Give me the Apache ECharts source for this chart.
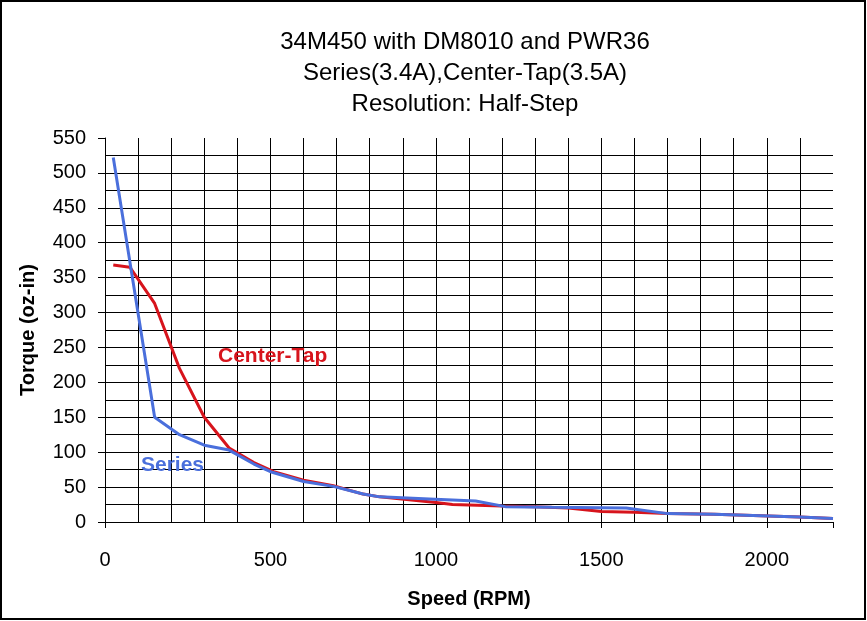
<!DOCTYPE html>
<html>
<head>
<meta charset="utf-8">
<script src="https://cdn.jsdelivr.net/npm/echarts@6/dist/echarts.min.js"></script>
<style>
    html, body { margin: 0; padding: 0; background: #fff; }
    #chart { width: 867px; height: 621px; }
</style>
</head>
<body>
<div id="chart"></div>
<script>
    // speed (RPM), torque (oz-in)
    const seriesData = [
        [25, 522], [150, 150], [225, 125], [300, 110], [375, 103], [450, 83],
        [500, 72], [600, 58], [690, 51], [780, 40], [830, 36], [980, 33],
        [1120, 30], [1210, 22], [1350, 21], [1575, 20], [1700, 12], [1840, 11],
        [2100, 7], [2200, 5]
    ]
    const centerTapData = [
        [25, 368], [75, 365], [150, 313], [225, 220], [300, 150], [375, 106],
        [450, 85], [510, 72], [600, 60], [690, 52], [780, 40], [830, 36],
        [1000, 28], [1050, 25], [1200, 23], [1300, 22], [1400, 20], [1500, 15],
        [1600, 14], [1700, 12], [1840, 11], [2100, 7], [2200, 5]
    ]
    const titleLines = ['34M450 with DM8010 and PWR36', 'Series(3.4A),Center-Tap(3.5A)', 'Resolution: Half-Step']

    const font = '"Liberation Sans", Arial, sans-serif'
    const chart = echarts.init(document.getElementById('chart'))

    chart.setOption({
        backgroundColor: '#fff',
        animation: false,
        title: {
            text: titleLines.join('\n'),
            left: 460,
            textAlign: 'center',
            top: 22,
            textStyle: { fontFamily: font, fontSize: 24, fontWeight: 'normal', color: '#000', lineHeight: 31 }
        },
        grid: { left: 105, right: 34, top: 138, bottom: 99 },
        xAxis: {
            type: 'value',
            min: 0,
            max: 2200,
            interval: 500,
            name: 'Speed (RPM)',
            nameLocation: 'middle',
            nameGap: 67,
            nameTextStyle: { fontFamily: font, fontSize: 20, fontWeight: 'bold', color: '#000' },
            axisLine: { lineStyle: { color: '#000', width: 1 } },
            axisTick: { show: true, length: 6, lineStyle: { color: '#000' } },
            axisLabel: {
                margin: 28,
                fontFamily: font, fontSize: 20, color: '#000',
                formatter: v => (v % 500 === 0 ? String(v) : '')
            },
            splitLine: { show: true, showMaxLine: false, lineStyle: { color: '#000', width: 1 } },
            minorTick: { show: false, splitNumber: 5 },
            minorSplitLine: { show: true, lineStyle: { color: '#000', width: 1 } }
        },
        yAxis: {
            type: 'value',
            min: 0,
            max: 550,
            interval: 50,
            name: 'Torque (oz-in)',
            nameLocation: 'middle',
            nameGap: 67,
            nameTextStyle: { fontFamily: font, fontSize: 20, fontWeight: 'bold', color: '#000' },
            axisLine: { show: true, lineStyle: { color: '#000', width: 1 } },
            axisTick: { show: true, length: 7, lineStyle: { color: '#000' } },
            axisLabel: { margin: 19, fontFamily: font, fontSize: 20, color: '#000' },
            splitLine: { show: true, showMaxLine: false, lineStyle: { color: '#000', width: 1 } },
            minorTick: { show: false, splitNumber: 2 },
            minorSplitLine: { show: true, lineStyle: { color: '#000', width: 1 } }
        },
        series: [
            {
                name: 'Center-Tap',
                type: 'line',
                data: centerTapData,
                symbol: 'none',
                lineStyle: { color: '#d7141c', width: 3 },
                z: 3
            },
            {
                name: 'Series',
                type: 'line',
                data: seriesData,
                symbol: 'none',
                lineStyle: { color: '#4a6fdc', width: 3 },
                z: 4
            }
        ],
        graphic: [
            {
                type: 'rect',
                shape: { x: 1, y: 1, width: 864, height: 618 },
                style: { fill: 'none', stroke: '#000', lineWidth: 2 },
                silent: true
            },
            {
                type: 'text',
                z: 10,
                style: { text: 'Center-Tap', x: 218, y: 356, verticalAlign: 'middle', fill: '#d7141c', font: 'bold 21px ' + font }
            },
            {
                type: 'text',
                z: 10,
                style: { text: 'Series', x: 141, y: 465, verticalAlign: 'middle', fill: '#4a6fdc', font: 'bold 21px ' + font }
            }
        ]
    })
</script>
</body>
</html>
